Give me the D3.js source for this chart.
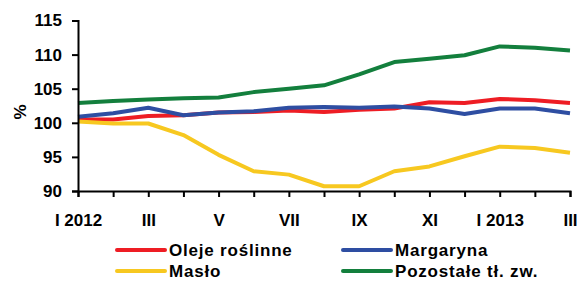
<!DOCTYPE html>
<html>
<head>
<meta charset="utf-8">
<script src="https://cdn.jsdelivr.net/npm/d3@7"></script>
<style>
  body { margin: 0; background: #fff; }
  svg { display: block; font-family: "Liberation Sans", Arial, sans-serif; font-weight: bold; }
</style>
</head>
<body>
<div id="chart"></div>
<script>
// months I 2012 .. III 2013
const months = ['I 2012', 'II', 'III', 'IV', 'V', 'VI', 'VII', 'VIII', 'IX', 'X', 'XI', 'XII', 'I 2013', 'II', 'III'];
const yTicks = [90, 95, 100, 105, 110, 115];

const oleje     = [100.5, 100.5, 101.0, 101.1, 101.5, 101.6, 101.8, 101.6, 101.9, 102.1, 103.0, 102.9, 103.5, 103.3, 102.9];
const margaryna = [100.9, 101.4, 102.2, 101.1, 101.5, 101.7, 102.2, 102.3, 102.2, 102.4, 102.1, 101.3, 102.1, 102.1, 101.4];
const maslo     = [100.2, 99.9, 99.9, 98.2, 95.3, 92.9, 92.4, 90.7, 90.7, 92.9, 93.6, 95.1, 96.5, 96.3, 95.6];
const pozostale = [102.9, 103.2, 103.4, 103.6, 103.7, 104.5, 105.0, 105.5, 107.1, 108.9, 109.4, 109.9, 111.2, 111.0, 110.6];

const series = [
  { name: 'Oleje roślinne',    values: oleje,     color: '#ee1d24' },
  { name: 'Margaryna',         values: margaryna, color: '#2e4ea2' },
  { name: 'Masło',             values: maslo,     color: '#f7c820' },
  { name: 'Pozostałe tł. zw.', values: pozostale, color: '#137f3d' },
];

const W = 585, H = 285;
const svg = d3.select('#chart').append('svg').attr('width', W).attr('height', H);

const x = d3.scalePoint().domain(d3.range(months.length)).range([78, 570]);
const y = d3.scaleLinear().domain([90, 115]).range([191, 20.5]);

// lines, drawn red, blue, yellow, green
const line = d3.line().x((d, i) => x(i)).y(d => y(d));
series.forEach(s => {
  svg.append('path')
    .attr('d', line(s.values))
    .attr('fill', 'none')
    .attr('stroke', s.color)
    .attr('stroke-width', 4)
    .attr('stroke-linejoin', 'round');
});

// axes
const yAxis = svg.append('g').attr('transform', 'translate(78,0)')
  .call(d3.axisLeft(y).tickValues(yTicks).tickSize(6).tickPadding(10));
const xAxis = svg.append('g').attr('transform', `translate(0,${y(90)})`)
  .call(d3.axisBottom(x).tickSize(6).tickPadding(17)
    .tickFormat(i => i % 2 === 0 ? months[i] : ''));

[yAxis, xAxis].forEach(a => {
  a.select('.domain').attr('stroke', '#000').attr('stroke-width', 2);
  a.selectAll('.tick line').attr('stroke', '#000').attr('stroke-width', 2);
  a.selectAll('.tick text')
    .attr('fill', '#000')
    .style('font-size', '17px')
    .style('font-family', '"Liberation Sans", Arial, sans-serif')
    .style('font-weight', 'bold');
});

svg.append('text')
  .attr('transform', 'translate(26,112) rotate(-90)')
  .attr('text-anchor', 'middle')
  .style('font-size', '17px')
  .text('%');

// legend, two columns
const legendPos = [[117, 250], [343, 250], [117, 271], [343, 271]];
series.forEach((s, i) => {
  const [lx, ly] = legendPos[i];
  svg.append('line')
    .attr('x1', lx).attr('x2', lx + 48)
    .attr('y1', ly).attr('y2', ly)
    .attr('stroke', s.color).attr('stroke-width', 4)
    .attr('stroke-linecap', 'round');
  svg.append('text')
    .attr('x', lx + 52).attr('y', ly).attr('dy', '0.36em')
    .style('font-size', '17px')
    .style('letter-spacing', '0.8px')
    .text(s.name);
});
</script>
</body>
</html>
